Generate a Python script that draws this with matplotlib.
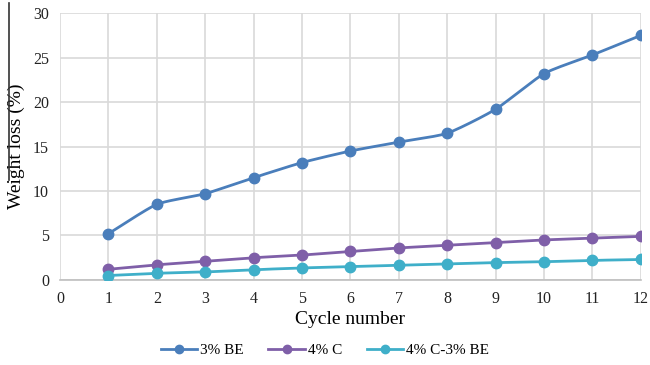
import numpy as np
import matplotlib
matplotlib.use("Agg")
import matplotlib.pyplot as plt
from matplotlib.lines import Line2D

cycles = [1, 2, 3, 4, 5, 6, 7, 8, 9, 10, 11, 12]
be3 = [5.2, 8.5, 9.7, 11.5, 13.2, 14.5, 15.5, 16.5, 19.2, 23.2, 25.3, 27.5]
c4 = [1.2, 1.7, 2.1, 2.5, 2.8, 3.2, 3.6, 3.9, 4.2, 4.5, 4.7, 4.9]
c4be3 = [0.5, 0.75, 0.9, 1.15, 1.35, 1.5, 1.65, 1.8, 1.95, 2.05, 2.2, 2.3]
labels = ["3% BE", "4% C", "4% C-3% BE"]
colors = ["#4A7EBB", "#7F5FA8", "#3FAFC9"]

plt.rcParams['font.family'] = ['Liberation Serif', 'DejaVu Serif']


def smooth(x, y, n=20):
    # Catmull-Rom style smoothing for line drawing (like Excel smoothed line)
    x = np.asarray(x, float); y = np.asarray(y, float)
    px = np.concatenate([[2 * x[0] - x[1]], x, [2 * x[-1] - x[-2]]])
    py = np.concatenate([[2 * y[0] - y[1]], y, [2 * y[-1] - y[-2]]])
    xs, ys = [], []
    t = np.linspace(0, 1, n)
    for i in range(1, len(px) - 2):
        p0, p1, p2, p3 = [np.array([px[j], py[j]]) for j in range(i - 1, i + 3)]
        m1 = (p2 - p0) / 2 * 0.6
        m2 = (p3 - p1) / 2 * 0.6
        h00 = 2 * t**3 - 3 * t**2 + 1
        h10 = t**3 - 2 * t**2 + t
        h01 = -2 * t**3 + 3 * t**2
        h11 = t**3 - t**2
        pts = (np.outer(h00, p1) + np.outer(h10, m1) + np.outer(h01, p2) + np.outer(h11, m2))
        xs.extend(pts[:, 0]); ys.extend(pts[:, 1])
    return xs, ys


fig = plt.figure(figsize=(6.5, 3.65), dpi=100)
ax = fig.add_axes([0.0923, 0.233, 0.8937, 0.731])

for data, col, lab in zip([be3, c4, c4be3], colors, labels):
    sx, sy = smooth(cycles, data)
    ax.plot(sx, sy, color=col, lw=2, zorder=3)
    ax.plot(cycles, data, 'o', color=col, ms=7.5, zorder=4)

ax.set_xlim(0, 12)
ax.set_ylim(0, 30)
ax.set_xticks(range(0, 13))
ax.set_yticks(range(0, 31, 5))
ax.grid(True, color="#D9D9D9", lw=1.2)
ax.set_axisbelow(True)
for s in ["top", "right", "left"]:
    ax.spines[s].set_visible(False)
ax.spines["bottom"].set_color("#BFBFBF")
ax.spines["bottom"].set_linewidth(1.2)
ax.tick_params(length=0, labelsize=11.5, colors="#222222", pad=8)
ax.set_xlabel("Cycle number", fontsize=14, labelpad=3)
ax.set_ylabel("Weight loss (%)", fontsize=14, labelpad=6)

# thin dark rule at the left edge, as in the source image
fig.add_artist(Line2D([8.5 / 650, 8.5 / 650], [1 - 3 / 365, 1 - 180 / 365],
                      transform=fig.transFigure, color="#333333", lw=1.2))

handles = [Line2D([0], [0], color=c, lw=2, marker='o', ms=6) for c in colors]
fig.legend(handles, labels, loc="center", bbox_to_anchor=(0.5, 0.04), ncol=3,
           frameon=False, fontsize=11, handlelength=2.4, columnspacing=1.6, handletextpad=0.2)

fig.savefig("out.png", dpi=100)
